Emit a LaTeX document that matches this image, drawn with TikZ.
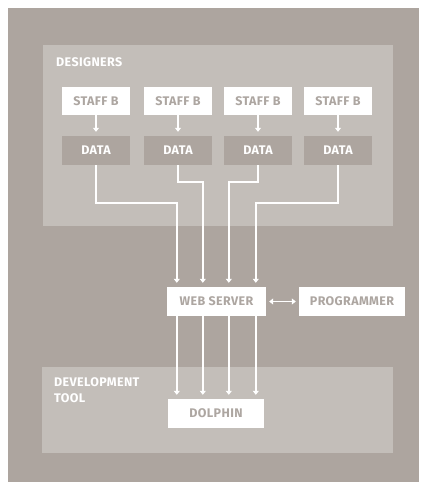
\documentclass[tikz,border=0pt]{standalone}
\usepackage{fontspec}
\setmainfont{Fira Sans}[LetterSpace=3]
\usetikzlibrary{arrows.meta}
\definecolor{outerbg}{HTML}{ADA59F}
\definecolor{panelbg}{HTML}{C3BEB9}
\definecolor{databg}{HTML}{ADA59F}
\definecolor{boxtext}{HTML}{ADA6A1}
\tikzset{
  box/.style={fill=white, text=boxtext, font=\bfseries\fontsize{12.5}{13}\selectfont, inner sep=0pt, minimum height=28pt, anchor=center},
  databox/.style={fill=databg, text=white, font=\bfseries\fontsize{12.5}{13}\selectfont, inner sep=0pt, minimum width=68pt, minimum height=29pt},
  panellabel/.style={text=white, font=\bfseries\fontsize{12.5}{16.5}\selectfont, anchor=north west, inner sep=0pt, align=left},
  conn/.style={draw=white, line width=1.9pt, -{Triangle[length=4pt,width=6pt]}},
  conn2/.style={draw=white, line width=1.9pt, {Triangle[length=4pt,width=6pt]}-{Triangle[length=4pt,width=6pt]}}
}
\begin{document}
\begin{tikzpicture}[x=1pt,y=-1pt]
\useasboundingbox (0,0) rectangle (421,482);
\fill[outerbg] (8,8) rectangle (419,482);
\fill[panelbg] (43,45) rectangle (393,226);
\fill[panelbg] (42,367) rectangle (393,453);
\node[panellabel] (lblD) at (56,57.5) {DESIGNERS};
\node[panellabel] (lblT) at (54,377) {DEVELOPMENT\\TOOL};
\foreach \i/\x in {1/96,2/178,3/258,4/338}{
  \node[box, minimum width=68pt] (s\i) at (\x,101) {STAFF B};
  \node[databox] (d\i) at (\x,150.5) {DATA};
  \draw[conn, shorten >=4pt] (s\i.south) -- (d\i.north);
}
\node[box, minimum width=99pt, minimum height=29pt] (web) at (216.5,301.5) {WEB SERVER};
\node[box, minimum width=106pt, minimum height=29pt] (prog) at (352,301.5) {PROGRAMMER};
\node[box, minimum width=96pt, minimum height=29pt] (dol) at (216,413.5) {DOLPHIN};
\draw[conn2, shorten >=3pt, shorten <=3pt] (web.east) -- (prog.west);
\draw[conn, shorten >=4pt] (d1.south) -- (d1.south |- 0,203) -| ([xshift=10pt]web.north west);
\draw[conn, shorten >=4pt] (d2.south) -- (d2.south |- 0,182) -| ([xshift=36pt]web.north west);
\draw[conn, shorten >=4pt] (d3.south) -- (d3.south |- 0,182) -| ([xshift=62pt]web.north west);
\draw[conn, shorten >=4pt] (d4.south) -- (d4.south |- 0,203) -| ([xshift=89pt]web.north west);
\foreach \o in {10,36,62,89}{
  \draw[conn, shorten >=4pt] ([xshift=\o pt]web.south west) -- ([xshift=\o pt]web.south west |- dol.north);
}
\end{tikzpicture}
\end{document}
